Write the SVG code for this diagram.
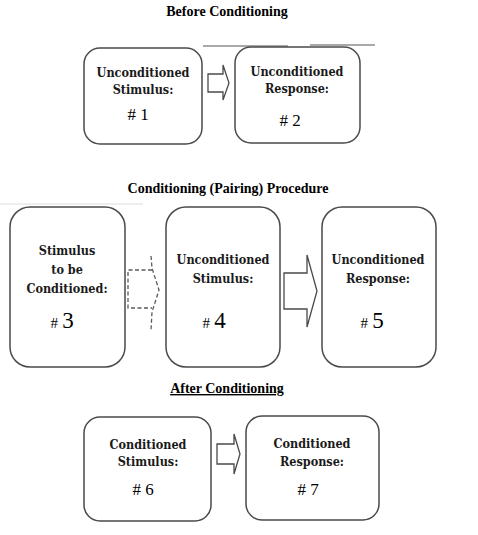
<svg xmlns="http://www.w3.org/2000/svg" width="478" height="535" viewBox="0 0 478 535">
<style>
.box{fill:#fff;stroke:#4a4a4a;stroke-width:1.5}
.arr{fill:#fff;stroke:#4a4a4a;stroke-width:1.3}
.dash{fill:none;stroke:#5a5a5a;stroke-width:1.3;stroke-dasharray:4 2.5}
.title{font-family:"Liberation Serif",serif;font-weight:bold;font-size:14px;fill:#000;text-anchor:middle}
.lbl{font-family:"DejaVu Serif Condensed","DejaVu Serif",serif;font-weight:bold;font-size:12.5px;fill:#1a1a1a;text-anchor:middle}
.num{font-family:"Liberation Serif",serif;font-size:17px;fill:#000;text-anchor:middle}
.big{font-size:23px}
.sm{font-size:15px}
</style>
<rect width="478" height="535" fill="#fff"/>
<text class="title" x="227" y="16">Before Conditioning</text>
<text class="title" x="228" y="193">Conditioning (Pairing) Procedure</text>
<text class="title" x="227" y="393" text-decoration="underline">After Conditioning</text>
<line x1="203" y1="46" x2="288" y2="46" stroke="#555" stroke-width="1.2"/>
<line x1="310" y1="45" x2="375" y2="45" stroke="#555" stroke-width="1.2"/>
<line x1="0" y1="204" x2="143" y2="204" stroke="#ddd" stroke-width="1"/>
<g id="connectors">
<path class="arr" d="M208 74 H223 V65 L229 83 L223 100 V92 H208 Z"/>
<path class="dash" d="M152 270 H128 V308 H152 M151 256 L152 268 L159 290 L152 312 L151 330"/>
<path class="arr" d="M284 273 H307 V255 L317 291 L307 327 V309 H284 Z"/>
<path class="arr" d="M217 444 H234 V434 L240 454 L234 474 V464 H217 Z"/>
</g>
<g id="n1">
<rect class="box" x="84" y="48" width="118" height="96" rx="16"/>
<text class="lbl" x="143" y="77">Unconditioned</text>
<text class="lbl" x="143" y="94">Stimulus:</text>
<text class="num" x="138" y="120"># 1</text>
</g>
<g id="n2">
<rect class="box" x="235" y="47" width="125" height="96" rx="16"/>
<text class="lbl" x="297" y="76">Unconditioned</text>
<text class="lbl" x="297" y="93">Response:</text>
<text class="num" x="290" y="126"># 2</text>
</g>
<g id="n3">
<rect class="box" x="10" y="207" width="115" height="160" rx="20"/>
<text class="lbl" x="67" y="255">Stimulus</text>
<text class="lbl" x="67" y="274">to be</text>
<text class="lbl" x="67" y="293">Conditioned:</text>
<text class="num" x="62" y="328"><tspan class="sm">#</tspan> <tspan class="big">3</tspan></text>
</g>
<g id="n4">
<rect class="box" x="166" y="207" width="114" height="160" rx="20"/>
<text class="lbl" x="223" y="264">Unconditioned</text>
<text class="lbl" x="223" y="283">Stimulus:</text>
<text class="num" x="214" y="328"><tspan class="sm">#</tspan>  <tspan class="big">4</tspan></text>
</g>
<g id="n5">
<rect class="box" x="322" y="207" width="114" height="160" rx="20"/>
<text class="lbl" x="378" y="264">Unconditioned</text>
<text class="lbl" x="378" y="283">Response:</text>
<text class="num" x="372" y="328"><tspan class="sm">#</tspan> <tspan class="big">5</tspan></text>
</g>
<g id="n6">
<rect class="box" x="84" y="417" width="127" height="104" rx="16"/>
<text class="lbl" x="148" y="449">Conditioned</text>
<text class="lbl" x="148" y="466">Stimulus:</text>
<text class="num" x="143" y="495"># 6</text>
</g>
<g id="n7">
<rect class="box" x="246" y="416" width="133" height="104" rx="16"/>
<text class="lbl" x="312" y="448">Conditioned</text>
<text class="lbl" x="312" y="466">Response:</text>
<text class="num" x="308" y="495"># 7</text>
</g>
</svg>
